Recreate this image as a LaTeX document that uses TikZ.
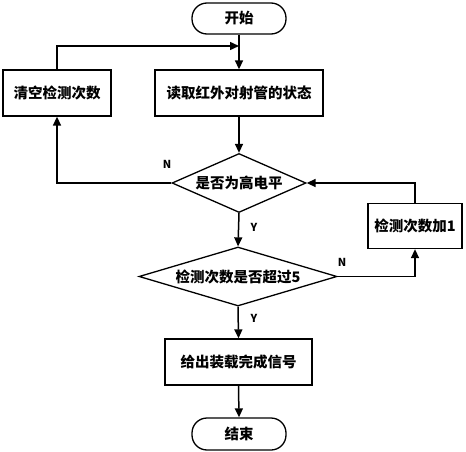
\documentclass[tikz,border=0pt]{standalone}
\usepackage{fontspec}
\setmainfont{Noto Sans CJK SC}
\usetikzlibrary{shapes.geometric,arrows.meta}
\begin{document}
\begin{tikzpicture}[x=1pt,y=-1pt,
  every node/.style={font=\fontsize{14.5}{17}\selectfont\bfseries},
  box/.style={draw,line width=1.3pt,rectangle,minimum height=46pt,inner sep=0pt},
  term/.style={draw,line width=1.3pt,rectangle,rounded corners=15pt,minimum width=94pt,minimum height=31pt,inner sep=0pt},
  dia/.style={draw,line width=1.3pt,diamond,inner sep=0pt,minimum height=59pt},
  lab/.style={font=\fontsize{11}{13}\selectfont\bfseries},
  arr/.style={line width=1.5pt,-{Triangle[length=9pt,width=8pt]}}]
\useasboundingbox (0,0) rectangle (466,452);
\node[term] (start) at (239,18.5) {开始};
\node[box,minimum width=168pt] (read) at (239,93) {读取红外对射管的状态};
\node[box,minimum width=108pt] (clear) at (57,93) {清空检测次数};
\node[dia,minimum width=134pt,aspect=2.27] (d1) at (239,183) {是否为高电平};
\node[dia,minimum width=198pt,aspect=3.36] (d2) at (238,276.5) {检测次数是否超过5};
\node[box,minimum width=94pt,minimum height=45pt] (inc) at (415,226) {检测次数加1};
\node[box,minimum width=147pt] (out) at (238.5,362) {给出装载完成信号};
\node[term,minimum height=32pt] (end) at (239,434) {结束};
\coordinate (j) at (239,46);
\draw[arr] (start.south) -- (read.north);
\draw[arr] (clear.north) |- (j);
\draw[arr] (read.south) -- (d1.north);
\draw[arr] (d1.west) -| (clear.south);
\draw[arr] (d1.south) -- (d2.north);
\draw[arr] (d2.east) -| (inc.south);
\draw[arr] (inc.north) |- (d1.east);
\draw[arr] (d2.south) -- (out.north);
\draw[arr] (out.south) -- (end.north);
\node[lab] (n1) at (167,164) {N};
\node[lab] (y1) at (254,227) {Y};
\node[lab] (n2) at (342,262) {N};
\node[lab] (y2) at (254,318) {Y};
\end{tikzpicture}
\end{document}
